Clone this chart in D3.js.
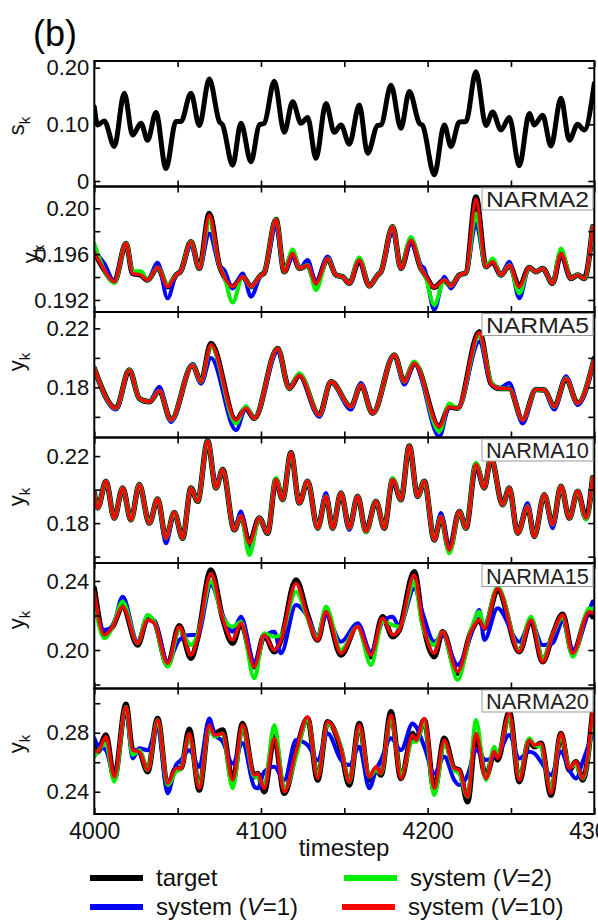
<!DOCTYPE html>
<html>
<head>
<meta charset="utf-8">
<script src="https://cdn.jsdelivr.net/npm/d3@7"></script>
<style>
  body { margin: 0; background: #fff; }
  text { font-family: "Liberation Sans", Arial, Helvetica, sans-serif; }
</style>
</head>
<body>
<script>
// x axis
var xTickValues = [4000, 4050, 4100, 4150, 4200, 4250, 4300];
var xTickLabels = ["4000", "", "4100", "", "4200", "", "4300"];

// input s_k
var sTime = [4000,4002,4006,4012,4018,4023,4028,4032,4037,4043,4049,4052,4058,4063,4069,4075,4077,4083,4088,4094,
  4099,4102,4108,4114,4119,4124,4128,4133,4139,4144,4148,4153,4159,4164,4170,4172,4178,4184,4189,4195,
  4197,4204,4210,4214,4219,4223,4229,4235,4239,4244,4249,4255,4261,4264,4269,4274,4280,4285,4290,4294,4300];
var sValue = [0.131,0.099,0.106,0.061,0.155,0.081,0.102,0.072,0.121,0.022,0.105,0.105,0.155,0.098,0.180,0.105,0.099,0.028,0.102,0.034,
  0.099,0.102,0.176,0.086,0.140,0.102,0.112,0.040,0.137,0.086,0.099,0.065,0.134,0.049,0.098,0.099,0.169,0.093,0.158,0.102,
  0.098,0.011,0.099,0.061,0.104,0.105,0.193,0.098,0.122,0.090,0.112,0.027,0.119,0.099,0.116,0.062,0.146,0.072,0.100,0.090,0.172];
var sTicks = [0, 0.1, 0.2];
var sTickLabels = ["0", "0.10", "0.20"];

// NARMA2
var n2Time = [4000,4006,4012,4019,4023,4028,4032,4038,4044,4049,4052,4058,4063,4069,4075,4078,4083,4089,4094,4100,
  4102,4109,4114,4119,4123,4128,4133,4140,4145,4149,4153,4159,4165,4170,4172,4179,4184,4190,4196,4198,
  4204,4210,4214,4219,4223,4229,4235,4239,4244,4249,4255,4261,4265,4269,4275,4280,4286,4290,4294,4299];
var n2Target = [.1962,.19461,.19359,.19693,.19432,.19417,.19374,.19484,.19316,.19417,.19455,.19707,.19475,.19954,.19504,.19403,.19316,.19403,.19316,.19417,
  .19438,.19901,.19446,.19606,.19475,.19504,.19345,.19562,.19417,.19403,.19345,.19548,.19322,.19417,.19446,.19838,.19475,.19722,.19475,.19432,
  .1931,.19374,.19322,.19417,.19438,.20099,.1949,.19533,.19417,.19504,.19316,.19484,.19446,.19475,.19345,.19606,.19388,.19417,.19388,.19838];
var n2V1 = [.1962,.1952,.19359,.19693,.19432,.1942,.19374,.19525,.19214,.19417,.19455,.1968,.19475,.1978,.1950,.19461,.1930,.19432,.19229,.19417,
  .19438,.1984,.19446,.1958,.19475,.19548,.19345,.1958,.19417,.19403,.19345,.19548,.19322,.19417,.19446,.1980,.19475,.1970,.1950,.19475,
  .19113,.19403,.19301,.19417,.19438,.19867,.1949,.19533,.19417,.19533,.19214,.19484,.19446,.19475,.19345,.19606,.19388,.19417,.19388,.19838];
var n2V2 = [.1969,.1946,.1935,.19693,.1945,.1945,.19374,.19484,.1933,.19417,.19455,.19707,.19475,.1990,.19504,.19403,.19177,.19403,.19316,.19417,
  .19438,.19901,.19446,.19641,.19475,.19504,.19287,.19562,.19417,.19403,.19345,.1957,.19322,.19417,.19446,.19838,.19475,.1975,.19475,.19432,
  .19157,.19374,.19322,.19417,.19438,.19954,.1949,.19562,.19417,.19504,.19258,.19484,.19446,.19475,.19345,.19649,.19388,.19417,.19388,.19838];
var n2V10 = [.1962,.19461,.19359,.19693,.19432,.19417,.19374,.19484,.19316,.19417,.19455,.19707,.19475,.1994,.19504,.19403,.19316,.19403,.19316,.19417,
  .19438,.19901,.19446,.19606,.19475,.19504,.19345,.19562,.19417,.19403,.19345,.19548,.19322,.19417,.19446,.19838,.19475,.19722,.19475,.19432,
  .1931,.19374,.19322,.19417,.19438,.2008,.1949,.19533,.19417,.19504,.19316,.19484,.19446,.19475,.19345,.19606,.19388,.19417,.19388,.19838];
var n2Ticks = [0.192, 0.194, 0.196, 0.198, 0.200];
var n2TickLabels = ["0.192", "", "0.196", "", "0.20"];

// NARMA5
var n5Time = [4000,4013,4021,4027,4033,4039,4046,4059,4064,4070,4085,4091,4096,4110,4117,4123,4135,4142,4154,4160,
  4167,4180,4186,4192,4207,4213,4218,4231,4238,4243,4249,4257,4265,4270,4276,4283,4290,4300];
var n5Target = [.1929,.1658,.1917,.1725,.1702,.1777,.1578,.1951,.1838,.2098,.1578,.1658,.1590,.2064,.1793,.1883,.1612,.1838,.1668,.1816,
  .1624,.2019,.1838,.1963,.1533,.1668,.1658,.2177,.1827,.1793,.1793,.1578,.1786,.1782,.1668,.1861,.1692,.1997];
var n5V1 = [.1929,.1650,.1917,.1725,.1702,.1804,.1565,.1958,.1825,.1999,.1510,.1658,.1590,.2040,.1800,.1883,.1600,.1838,.1650,.1830,
  .1624,.2019,.1820,.1963,.1465,.1668,.1658,.2110,.1827,.1793,.1830,.1555,.1786,.1782,.1650,.1875,.1680,.1997];
var n5V2 = [.1929,.1658,.1917,.1725,.1702,.1777,.1578,.1951,.1838,.2080,.1555,.1672,.1590,.2064,.1793,.1895,.1612,.1838,.1668,.1816,
  .1624,.2019,.1838,.1975,.1500,.1690,.1658,.2150,.1840,.1793,.1793,.1578,.1786,.1782,.1668,.1861,.1692,.1997];
var n5V10 = [.1929,.1658,.1917,.1725,.1702,.1777,.1578,.1951,.1838,.2090,.1578,.1658,.1590,.2064,.1793,.1883,.1612,.1838,.1668,.1816,
  .1624,.2019,.1838,.1963,.1533,.1668,.1658,.2170,.1827,.1793,.1793,.1578,.1786,.1782,.1668,.1861,.1692,.1997];
var n5Ticks = [0.16, 0.18, 0.20, 0.22];
var n5TickLabels = ["", "0.18", "", "0.22"];

// NARMA10
var n10Time = [4000,4002,4007,4012,4017,4022,4027,4033,4038,4043,4048,4053,4058,4062,4068,4073,4077,4084,4088,4093,
  4099,4104,4109,4113,4118,4123,4128,4134,4139,4143,4148,4153,4158,4163,4169,4174,4179,4184,4189,4194,
  4198,4204,4208,4213,4219,4223,4229,4234,4238,4245,4249,4254,4260,4264,4270,4275,4280,4285,4290,4295,4299];
var n10Target = [.198,.189,.205,.183,.201,.182,.203,.180,.1944,.171,.1864,.171,.201,.193,.229,.201,.212,.176,.1844,.168,
  .183,.174,.206,.194,.222,.192,.205,.177,.196,.177,.198,.177,.196,.175,.193,.177,.206,.194,.226,.196,
  .205,.170,.184,.164,.187,.177,.215,.201,.219,.191,.201,.174,.190,.172,.197,.179,.202,.183,.199,.183,.207];
var n10V1 = [.198,.189,.205,.183,.201,.182,.203,.180,.1944,.168,.1864,.171,.201,.193,.229,.203,.212,.176,.187,.163,
  .183,.174,.206,.194,.222,.192,.205,.177,.198,.177,.198,.176,.196,.175,.193,.177,.206,.194,.226,.196,
  .205,.170,.186,.164,.187,.177,.215,.201,.219,.191,.201,.174,.192,.172,.197,.177,.202,.183,.199,.183,.207];
var n10V2 = [.198,.189,.205,.183,.201,.182,.203,.180,.1944,.171,.1864,.171,.201,.193,.229,.201,.212,.176,.1844,.161,
  .183,.174,.207,.194,.222,.192,.205,.177,.196,.177,.198,.177,.196,.1745,.193,.177,.207,.194,.226,.196,
  .205,.170,.184,.162,.187,.177,.216,.201,.219,.191,.201,.174,.190,.172,.197,.179,.202,.183,.199,.182,.207];
var n10V10 = n10Target.slice();
var n10Ticks = [0.16, 0.18, 0.20, 0.22];
var n10TickLabels = ["", "0.18", "", "0.22"];

// NARMA15
var n15Time = [4000,4006,4011,4017,4026,4032,4036,4044,4051,4058,4062,4070,4077,4083,4088,4096,4102,4108,4112,4121,
  4128,4134,4139,4148,4158,4166,4173,4179,4183,4192,4197,4204,4209,4218,4226,4231,4234,4242,4255,4262,
  4269,4275,4281,4287,4297,4299];
var n15Target = [.2357,.2097,.2135,.2251,.2029,.2184,.2164,.1913,.2141,.1952,.2068,.2464,.2184,.2039,.2155,.1903,.2087,.1990,.2058,.2406,
  .2203,.2058,.2222,.1971,.2145,.1961,.2193,.2077,.2116,.2454,.2164,.1961,.2106,.1865,.2106,.2174,.2126,.2348,.1990,.2174,
  .1932,.2087,.2207,.1981,.2218,.2193];
var n15V1 = [.2261,.2116,.2135,.2309,.2048,.2174,.2164,.1932,.2058,.2087,.2087,.2377,.2203,.2106,.2193,.1932,.2077,.2106,.1981,.2261,
  .2193,.2077,.2203,.2048,.2155,.1990,.2164,.2193,.2135,.2357,.2213,.2048,.2087,.1913,.2087,.2232,.2058,.2242,.2048,.2164,
  .2029,.2039,.2164,.2000,.2232,.2280];
var n15V2 = [.2280,.2068,.2135,.2280,.2039,.2203,.2164,.1903,.2116,.2029,.2087,.2396,.2193,.2135,.2164,.1836,.2097,.2077,.2087,.2338,
  .2184,.2068,.2251,.2000,.2135,.1913,.2164,.2145,.2135,.2396,.2135,.2029,.2106,.1826,.2116,.2222,.2135,.2367,.2000,.2193,
  .1952,.2087,.2193,.1961,.2242,.2232];
var n15V10 = [.2338,.2087,.2135,.2251,.2039,.2174,.2155,.1923,.2135,.1971,.2068,.2444,.2184,.2058,.2155,.1903,.2087,.1998,.2058,.2386,
  .2193,.2058,.2222,.1981,.2135,.1971,.2184,.2087,.2116,.2435,.2164,.1981,.2106,.1874,.2106,.2174,.2126,.2357,.1990,.2174,
  .1932,.2087,.2203,.1981,.2222,.2213];
var n15Ticks = [0.18, 0.20, 0.22, 0.24];
var n15TickLabels = ["", "0.20", "", "0.24"];

// NARMA20
var n20Time = [4000,4002,4007,4012,4019,4023,4027,4032,4038,4044,4049,4052,4057,4063,4069,4072,4077,4083,4089,4096,
  4098,4102,4108,4114,4121,4128,4134,4140,4148,4153,4159,4165,4169,4172,4178,4184,4191,4193,4198,4204,
  4210,4216,4219,4224,4229,4235,4240,4242,4249,4255,4261,4264,4268,4274,4280,4285,4289,4293,4299];
var n20Target = [.2705,.2671,.2784,.2490,.2994,.2682,.2671,.2536,.2897,.2434,.2558,.2558,.2823,.2411,.2863,.2795,.2818,.2468,.2863,.2502,
  .2524,.2400,.2773,.2389,.2671,.2897,.2479,.2875,.2682,.2445,.2863,.2479,.2558,.2513,.2942,.2490,.2795,.2750,.2886,.2411,
  .2762,.2558,.2547,.2332,.2784,.2502,.2660,.2615,.2942,.2468,.2750,.2705,.2728,.2377,.2795,.2547,.2603,.2479,.2942];
var n20V1 = [.2762,.2716,.2682,.2502,.2954,.2626,.2694,.2682,.2841,.2389,.2581,.2615,.2682,.2569,.2897,.2795,.2739,.2592,.2728,.2434,
  .2423,.2536,.2569,.2479,.2750,.2716,.2615,.2795,.2615,.2581,.2705,.2423,.2547,.2615,.2762,.2682,.2863,.2841,.2705,.2524,
  .2637,.2479,.2445,.2513,.2682,.2615,.2637,.2649,.2784,.2626,.2671,.2660,.2603,.2513,.2671,.2547,.2490,.2603,.2795];
var n20V2 = [.2637,.2671,.2728,.2468,.2976,.2649,.2682,.2547,.2886,.2445,.2536,.2558,.2784,.2434,.2841,.2773,.2795,.2423,.2841,.2502,
  .2502,.2434,.2853,.2411,.2637,.2897,.2502,.2863,.2705,.2468,.2841,.2502,.2547,.2524,.2908,.2513,.2739,.2739,.2875,.2377,
  .2728,.2547,.2524,.2366,.2886,.2479,.2705,.2649,.2908,.2490,.2762,.2716,.2705,.2411,.2784,.2569,.2581,.2490,.2908];
var n20V10 = [.2682,.2671,.2773,.2502,.2976,.2682,.2671,.2547,.2886,.2456,.2558,.2558,.2795,.2423,.2852,.2784,.2795,.2479,.2852,.2513,
  .2524,.2423,.2762,.2400,.2671,.2908,.2490,.2875,.2694,.2468,.2852,.2502,.2569,.2524,.2920,.2490,.2784,.2750,.2897,.2423,
  .2750,.2558,.2547,.2366,.2795,.2490,.2671,.2626,.2931,.2479,.2750,.2716,.2728,.2389,.2795,.2558,.2603,.2490,.2954];
var n20Ticks = [0.24, 0.26, 0.28, 0.30];
var n20TickLabels = ["0.24", "", "0.28", ""];

var legendLabels = ["target", "system (V=1)", "system (V=2)", "system (V=10)"];
var seriesColors = ["#000000", "#0000ff", "#00ee00", "#ff0000"];
var seriesWidths = [5.5, 4, 4, 3.4];

// ---------- layout ----------
var width = 598, height = 922;
var panelTop = 61, panelH = 125.5;
var x = d3.scaleLinear().domain([4000, 4300]).range([94.3, 594.3]);

function narma(name, time, arrs, dom, ticks, labels, labelPos) {
  return {
    name: name, domain: dom, ticks: ticks, tickLabels: labels, ylab: "y", labelPos: labelPos,
    series: arrs.map(function(a, i) { return { time: time, values: a, color: seriesColors[i], w: seriesWidths[i] }; })
  };
}

var panels = [
  { name: null, domain: [-0.0097, 0.2118], ticks: sTicks, tickLabels: sTickLabels, ylab: "s", labelPos: [24, 126],
    series: [{ time: sTime, values: sValue, color: "#000", w: 5 }] },
  narma("NARMA2", n2Time, [n2Target, n2V1, n2V2, n2V10], [0.19095, 0.2019], n2Ticks, n2TickLabels, [38, 254]),
  narma("NARMA5", n5Time, [n5Target, n5V1, n5V2, n5V10], [0.146, 0.2311], n5Ticks, n5TickLabels, [24, 362]),
  narma("NARMA10", n10Time, [n10Target, n10V1, n10V2, n10V10], [0.1562, 0.2311], n10Ticks, n10TickLabels, [24, 497]),
  narma("NARMA15", n15Time, [n15Target, n15V1, n15V2, n15V10], [0.1777, 0.2504], n15Ticks, n15TickLabels, [24, 620]),
  narma("NARMA20", n20Time, [n20Target, n20V1, n20V2, n20V10], [0.2249, 0.310], n20Ticks, n20TickLabels, [24, 744])
];

var svg = d3.select("body").append("svg")
  .attr("width", width)
  .attr("height", height);

svg.append("text")
  .attr("x", 33).attr("y", 46)
  .style("font-size", "36px")
  .text("(b)");

panels.forEach(function(p, i) {
  var top = panelTop + i * panelH, bottom = top + panelH;
  var y = d3.scaleLinear().domain(p.domain).range([bottom, top]);
  var g = svg.append("g");

  var clipId = "clip" + i;
  svg.append("clipPath").attr("id", clipId)
    .append("rect")
    .attr("x", x.range()[0]).attr("y", top)
    .attr("width", x.range()[1] - x.range()[0]).attr("height", panelH);

  var line = d3.line()
    .x(function(d) { return x(d[0]); })
    .y(function(d) { return y(d[1]); })
    .curve(d3.curveMonotoneX);

  var lines = g.append("g").attr("clip-path", "url(#" + clipId + ")");
  p.series.forEach(function(s) {
    lines.append("path")
      .datum(d3.zip(s.time, s.values))
      .attr("d", line)
      .attr("fill", "none")
      .attr("stroke", s.color)
      .attr("stroke-width", s.w)
      .attr("stroke-linejoin", "round")
      .attr("stroke-linecap", "round");
  });

  // axes
  var left = g.append("g").attr("transform", "translate(" + x.range()[0] + ",0)")
    .call(d3.axisLeft(y).tickValues(p.ticks).tickSize(-6).tickPadding(5)
      .tickFormat(function(d, k) { return p.tickLabels[k]; }));
  var right = g.append("g").attr("transform", "translate(" + x.range()[1] + ",0)")
    .call(d3.axisRight(y).tickValues(p.ticks).tickSize(-6).tickFormat(""));
  var topAx = g.append("g").attr("transform", "translate(0," + top + ")")
    .call(d3.axisTop(x).tickValues(xTickValues).tickSize(-6).tickFormat(""));
  var bottomAx = g.append("g").attr("transform", "translate(0," + bottom + ")")
    .call(d3.axisBottom(x).tickValues(xTickValues).tickSize(-6).tickPadding(9)
      .tickFormat(function(d, k) { return i === panels.length - 1 ? xTickLabels[k] : ""; }));

  [left, right, topAx, bottomAx].forEach(function(a) {
    a.select(".domain").remove();
    a.selectAll(".tick line").attr("stroke", "#000").attr("stroke-width", 1.6);
    a.selectAll("text").attr("fill", "#111").style("font-size", "22px")
      .style("font-family", "'Liberation Sans', Arial, sans-serif");
  });
  bottomAx.selectAll("text").style("font-size", "23px");

  g.append("rect")
    .attr("x", x.range()[0]).attr("y", top)
    .attr("width", x.range()[1] - x.range()[0]).attr("height", panelH)
    .attr("fill", "none").attr("stroke", "#000").attr("stroke-width", 2);

  // y label with subscript k
  var lab = g.append("text")
    .attr("transform", "translate(" + p.labelPos[0] + "," + p.labelPos[1] + ") rotate(-90)")
    .attr("text-anchor", "middle")
    .attr("fill", "#111")
    .style("font-size", "22px");
  lab.append("tspan").text(p.ylab);
  lab.append("tspan").attr("dy", 6).style("font-size", "15px").text("k");

  if (p.name) {
    g.append("rect")
      .attr("x", 482).attr("y", top + 1.5)
      .attr("width", 111).attr("height", 22)
      .attr("fill", "#fff").attr("stroke", "#999").attr("stroke-width", 1);
    g.append("text")
      .attr("x", 537.5).attr("y", top + 20.5)
      .attr("text-anchor", "middle")
      .attr("fill", "#222")
      .attr("textLength", 103).attr("lengthAdjust", "spacingAndGlyphs")
      .style("font-size", "22px")
      .text(p.name);
  }
});

svg.append("text")
  .attr("x", 344).attr("y", 856)
  .attr("text-anchor", "middle")
  .attr("fill", "#111")
  .style("font-size", "24px")
  .text("timestep");

// legend
var legendPos = [[90, 878], [90, 907], [344, 878], [342, 907]];
var legend = svg.append("g");
legendLabels.forEach(function(l, i) {
  var px = legendPos[i][0], py = legendPos[i][1];
  legend.append("line")
    .attr("x1", px).attr("x2", px + 53)
    .attr("y1", py).attr("y2", py)
    .attr("stroke", seriesColors[i]).attr("stroke-width", 6);
  var t = legend.append("text")
    .attr("x", px + 66).attr("y", py + 8)
    .attr("fill", "#111")
    .style("font-size", "24px");
  var m = l.match(/^(.*\()V(=.*)$/);
  if (m) {
    t.append("tspan").text(m[1]);
    t.append("tspan").style("font-style", "italic").text("V");
    t.append("tspan").text(m[2]);
  } else {
    t.text(l);
  }
});
</script>
</body>
</html>
